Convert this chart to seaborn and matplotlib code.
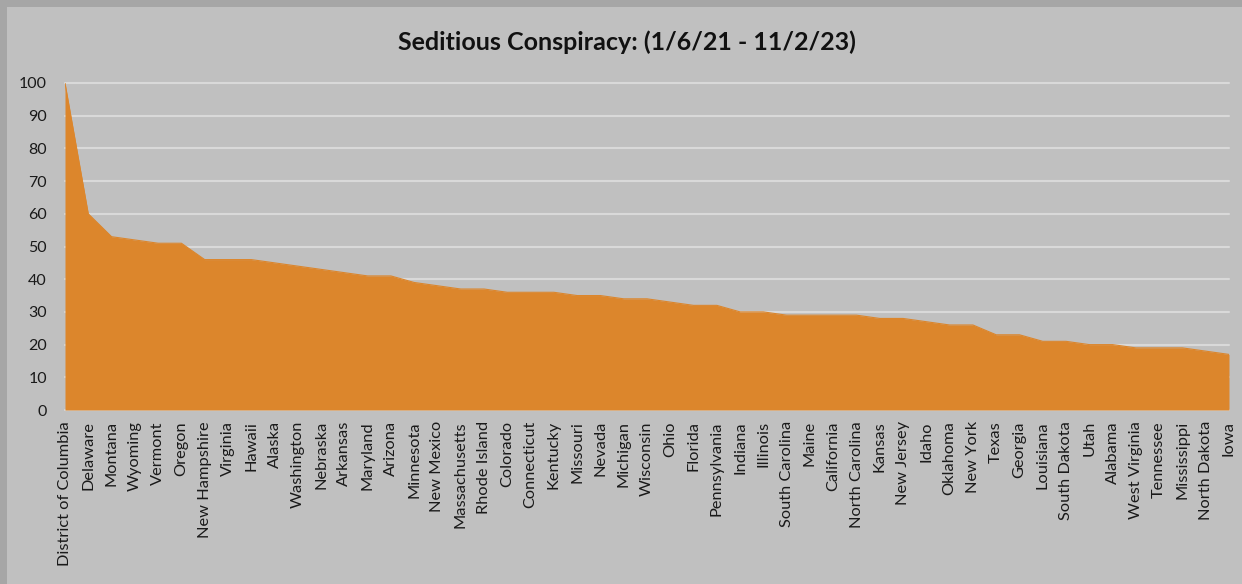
"""
Grafico de area: Seditious Conspiracy por estado
"""

import pandas as pd
import matplotlib.pyplot as plt
import seaborn as sns
from matplotlib.patches import Rectangle

states = [
    "District of Columbia", "Delaware", "Montana", "Wyoming", "Vermont", "Oregon",
    "New Hampshire", "Virginia", "Hawaii", "Alaska", "Washington", "Nebraska",
    "Arkansas", "Maryland", "Arizona", "Minnesota", "New Mexico", "Massachusetts",
    "Rhode Island", "Colorado", "Connecticut", "Kentucky", "Missouri", "Nevada",
    "Michigan", "Wisconsin", "Ohio", "Florida", "Pennsylvania", "Indiana",
    "Illinois", "South Carolina", "Maine", "California", "North Carolina", "Kansas",
    "New Jersey", "Idaho", "Oklahoma", "New York", "Texas", "Georgia",
    "Louisiana", "South Dakota", "Utah", "Alabama", "West Virginia", "Tennessee",
    "Mississippi", "North Dakota", "Iowa",
]
interest = [
    100, 60, 53, 52, 51, 51,
    46, 46, 46, 45, 44, 43,
    42, 41, 41, 39, 38, 37,
    37, 36, 36, 36, 35, 35,
    34, 34, 33, 32, 32, 30,
    30, 29, 29, 29, 29, 28,
    28, 27, 26, 26, 23, 23,
    21, 21, 20, 20, 19, 19,
    19, 18, 17,
]
y_ticks = [0, 10, 20, 30, 40, 50, 60, 70, 80, 90, 100]
title = "Seditious Conspiracy: (1/6/21 - 11/2/23)"

df = pd.DataFrame({"state": states, "value": interest})
df["pos"] = range(len(df))

sns.set_style("white")
plt.rcParams["font.family"] = ["Lato", "DejaVu Sans"]

fig = plt.figure(figsize=(12.42, 5.84), dpi=100)
fig.patch.set_facecolor("#A6A6A6")
fig.patches.append(Rectangle((7 / 1242, 0), 1, 1 - 7 / 584, transform=fig.transFigure,
                             facecolor="#C0C0C0", edgecolor="none", zorder=-10))

ax = fig.add_axes([65 / 1242, 1 - 410 / 584, (1229 - 65) / 1242, (410 - 83) / 584])
ax.set_facecolor("none")

sns.lineplot(data=df, x="pos", y="value", ax=ax, color="#DC862C", linewidth=0.8)
ax.fill_between(df["pos"], df["value"], color="#DC862C", linewidth=0, zorder=3)

ax.set_xlim(0, len(df) - 1)
ax.set_ylim(0, 100)
ax.set_yticks(y_ticks)
ax.set_yticklabels([str(t) for t in y_ticks], fontsize=11.5, color="#1A1A1A")
ax.set_xticks(df["pos"])
ax.set_xticklabels(df["state"], rotation=90, fontsize=11.8, color="#1A1A1A")
ax.tick_params(axis="y", length=0, pad=13)
ax.tick_params(axis="x", length=0, pad=8)
ax.set_xlabel("")
ax.set_ylabel("")

for t in y_ticks:
    ax.axhline(t, color="#D9D9D9", linewidth=1.5, zorder=1, clip_on=False)

for side in ax.spines.values():
    side.set_visible(False)

fig.text(0.505, 1 - 42 / 584, title, ha="center", va="center",
         fontsize=18, fontweight="bold", color="#111111")

fig.savefig("out.png", dpi=100, facecolor=fig.get_facecolor())
